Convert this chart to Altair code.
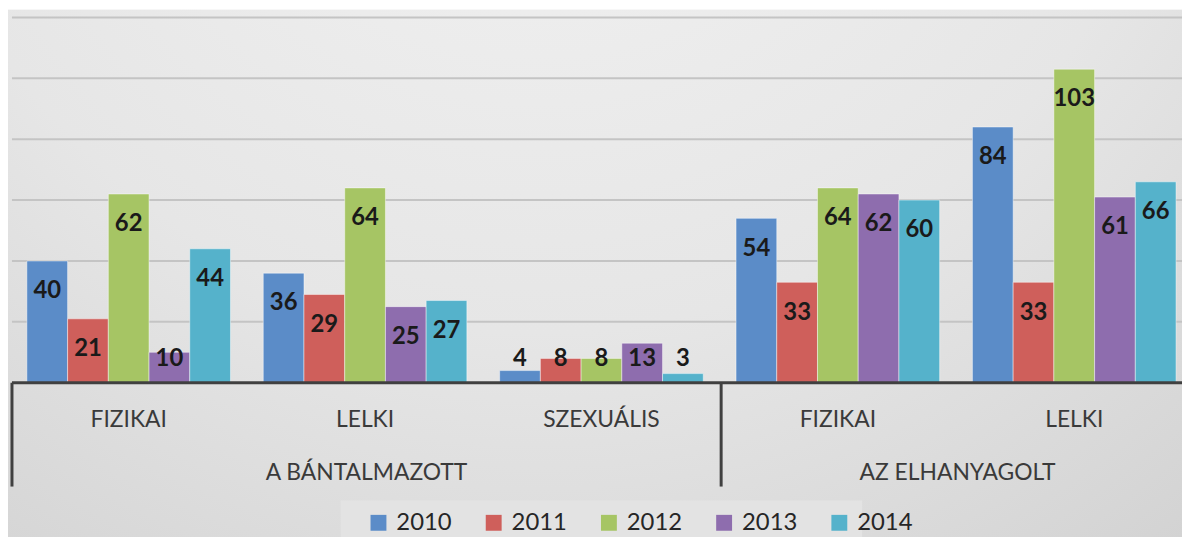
import altair as alt
import pandas as pd

# ---- data ----
groups = ["A BÁNTALMAZOTT", "A BÁNTALMAZOTT", "A BÁNTALMAZOTT", "AZ ELHANYAGOLT", "AZ ELHANYAGOLT"]
subcats = ["FIZIKAI", "LELKI", "SZEXUÁLIS", "FIZIKAI", "LELKI"]
years = ["2010", "2011", "2012", "2013", "2014"]
v2010 = [40, 36, 4, 54, 84]
v2011 = [21, 29, 8, 33, 33]
v2012 = [62, 64, 8, 64, 103]
v2013 = [10, 25, 13, 62, 61]
v2014 = [44, 27, 3, 60, 66]
colors = ["#5B8CC8", "#CF5F5B", "#A6C564", "#8E6DAE", "#55B2CB"]
grid_values = [20, 40, 60, 80, 100, 120]

# ---- layout constants ----
W = 1178          # plot width (page x 12 -> 1190; the chart is cut at the right edge)
STEP = 238        # category step in px
H = 375.5         # plot height (page y 8 -> 383.5)
YMAX = 122.5
BOTTOM = 156
FONT = "Lato"

unit = H / YMAX
drop = 29 / unit      # label centre 29px below bar top
minv = 25.5 / unit    # label centre never lower than 25.5px above baseline

cat_ids = [f"{g} | {s}" for g, s in zip(groups, subcats)]
n = len(cat_ids)
series = [v2010, v2011, v2012, v2013, v2014]
rows = []
for yi, y in enumerate(years):
    for ci, c in enumerate(cat_ids):
        rows.append({"cat": c, "year": y, "v": series[yi][ci]})
bars_df = pd.DataFrame(rows)
cats_df = pd.DataFrame({"cat": cat_ids, "sub": subcats})

# group spans in category-index units
gnames, gstart, gend = [], [], []
for i, g in enumerate(groups):
    if not gnames or gnames[-1] != g:
        gnames.append(g)
        gstart.append(i)
        gend.append(i + 1)
    else:
        gend[-1] = i + 1
grp_df = pd.DataFrame({"g": gnames, "p": [(a + b) / 2 for a, b in zip(gstart, gend)]})
div_df = pd.DataFrame({"p": gstart})
grid_df = pd.DataFrame({"g": grid_values})
zero_df = pd.DataFrame({"g": [0]})
one_df = pd.DataFrame({"a": [0]})

# band scale: step 238, bars 205 wide, first group starts 15px in
p_inner = 33 / STEP
p_outer = ((W / STEP) - (n - p_inner)) / 2
align = 15 / (W - STEP * (n - p_inner))

yscale = alt.Scale(domain=[0, YMAX], nice=False, zero=True)
xband = alt.X("cat:N", sort=cat_ids,
              scale=alt.Scale(type="band", paddingInner=p_inner, paddingOuter=p_outer, align=align),
              axis=None)
xoff = alt.XOffset("year:N", sort=years, scale=alt.Scale(paddingInner=0, paddingOuter=0))
xidx = alt.X("p:Q", scale=alt.Scale(domain=[0, W / STEP], nice=False, zero=False),
             axis=None)

bg = alt.Chart(one_df).mark_rect(
    fill=alt.RadialGradient(
        gradient="radial",
        stops=[alt.GradientStop(color="#f4f4f4", offset=0),
               alt.GradientStop(color="#e6e6e6", offset=0.5),
               alt.GradientStop(color="#c9c9c9", offset=1)],
        x1=0.45, y1=0, r1=0, x2=0.45, y2=0, r2=1.1,
    )
).encode(x=alt.value(-4), x2=alt.value(W), y=alt.value(0), y2=alt.value(H + BOTTOM))

legend_box = alt.Chart(one_df).mark_rect(color="#e3e3e3").encode(
    x=alt.value(331), x2=alt.value(856), y=alt.value(H + 118.5), y2=alt.value(H + BOTTOM + 10)
)

grid = alt.Chart(grid_df).mark_rule(color="#c4c4c4", strokeWidth=2).encode(
    y=alt.Y("g:Q", scale=yscale, axis=None)
)

bars = alt.Chart(bars_df).mark_bar(stroke="white", strokeWidth=1, strokeOpacity=0.45).encode(
    x=xband,
    xOffset=xoff,
    y=alt.Y("v:Q", scale=yscale, axis=None),
    color=alt.Color(
        "year:N", sort=years,
        scale=alt.Scale(domain=years, range=colors),
        legend=alt.Legend(
            orient="none", legendX=357, legendY=H + 129, direction="horizontal", columns=5,
            title=None, symbolType="square", symbolSize=256, symbolStrokeWidth=0,
            symbolOpacity=1, labelFont=FONT, labelFontSize=24, labelColor="#262626",
            columnPadding=30, labelOffset=6, padding=0,
        ),
    ),
)

labels = alt.Chart(bars_df).transform_calculate(
    lpos=f"max(datum.v - {drop}, {minv})"
).mark_text(
    font=FONT, fontWeight="bold", fontSize=24, color="#1a1a1a", baseline="alphabetic", dy=8.5
).encode(
    x=xband, xOffset=xoff,
    y=alt.Y("lpos:Q", scale=yscale, axis=None),
    text="v:Q",
)

baseline = alt.Chart(zero_df).mark_rule(color="#404040", strokeWidth=3).encode(
    y=alt.Y("g:Q", scale=yscale, axis=None)
)

dividers = alt.Chart(div_df).mark_rule(color="#404040", strokeWidth=3).encode(
    x=xidx, y=alt.value(H), y2=alt.value(H + 104.5)
)

catlabels = alt.Chart(cats_df).mark_text(
    font=FONT, fontSize=23, color="#3a3a3a", baseline="alphabetic"
).encode(x=xband, y=alt.value(H + 44.5), text="sub:N")

grplabels = alt.Chart(grp_df).mark_text(
    font=FONT, fontSize=23, color="#3a3a3a", baseline="alphabetic"
).encode(x=xidx, y=alt.value(H + 97.5), text="g:N")

chart = alt.layer(
    bg, legend_box, grid, bars, labels, baseline, dividers, catlabels, grplabels
).resolve_scale(x="independent").properties(
    width=W, height=H,
    padding={"left": 4, "top": 0, "right": 0, "bottom": BOTTOM},
    autosize=alt.AutoSizeParams(type="none"),
).configure_view(strokeWidth=0)

chart.save("out.html", embed_options={"renderer": "svg", "actions": False})
